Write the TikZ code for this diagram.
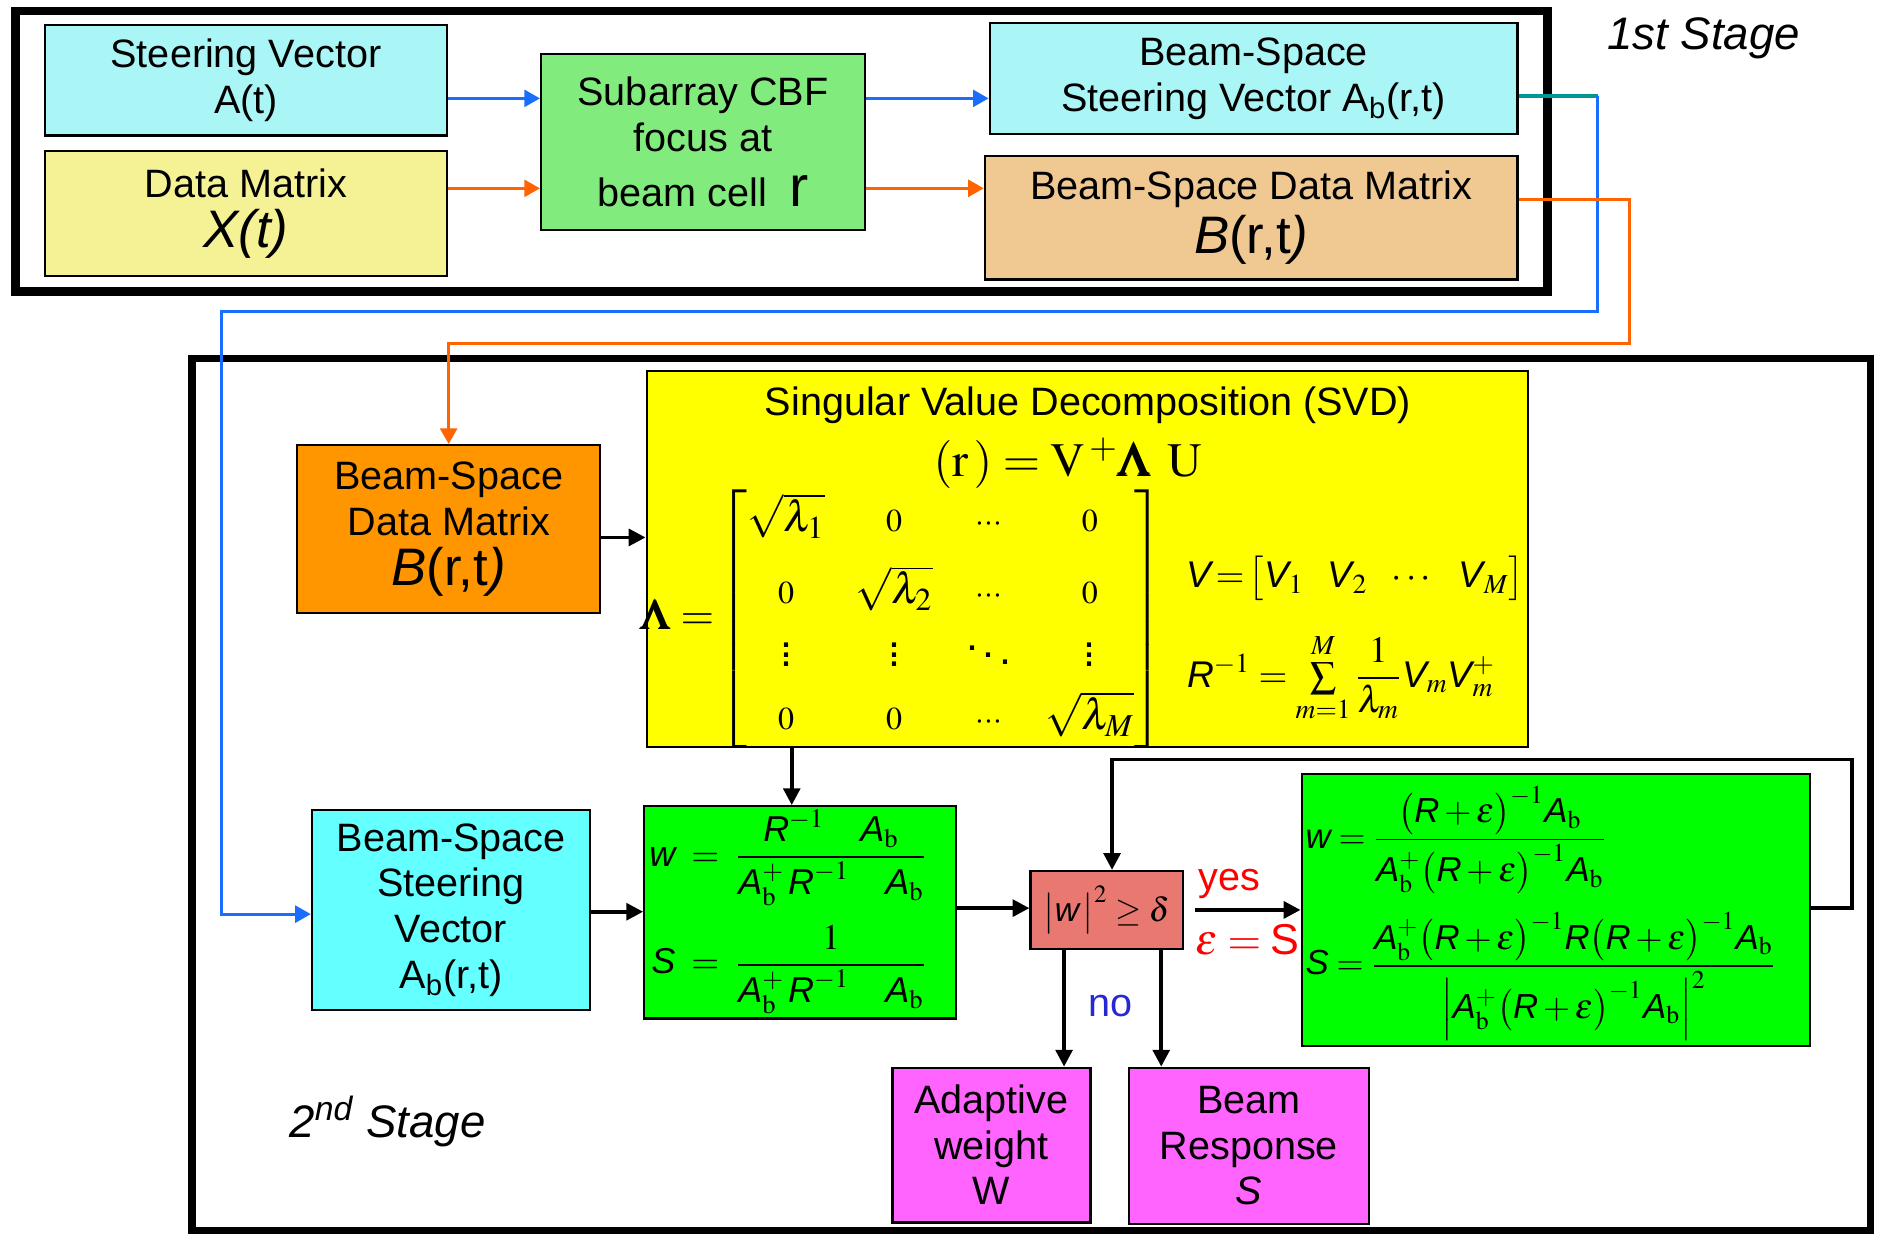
\documentclass[tikz,border=0pt]{standalone}
\usepackage{amsmath}
\usepackage{mathptmx}
\usepackage[no-math]{fontspec}
\setmainfont{Liberation Sans}
\usetikzlibrary{arrows.meta,positioning}
\definecolor{cyanA}{RGB}{170,245,245}
\definecolor{yellowA}{RGB}{245,242,150}
\definecolor{greenA}{RGB}{130,235,125}
\definecolor{tanA}{RGB}{240,200,145}
\definecolor{orangeB}{RGB}{255,150,0}
\definecolor{yellowB}{RGB}{255,255,0}
\definecolor{cyanB}{RGB}{100,255,255}
\definecolor{greenB}{RGB}{0,255,0}
\definecolor{redA}{RGB}{232,120,112}
\definecolor{magA}{RGB}{255,100,255}
\definecolor{lineblue}{RGB}{25,110,255}
\definecolor{lineorange}{RGB}{255,100,0}
\definecolor{tealA}{RGB}{0,150,150}
\definecolor{noblue}{RGB}{40,40,210}
\newcommand{\si}[1]{\text{\itshape #1}}
\newcommand{\mz}{{\scriptstyle 0}}
\newcommand{\md}{{\scriptstyle\cdots}}
\newcommand{\Ab}{\si{A}_{\mathrm b}}
\begin{document}
\begin{tikzpicture}[x=0.5pt,y=-0.5pt,
  box/.style={draw,line width=0.9pt,align=center,inner sep=0pt,
    font=\fontsize{16.5}{19}\selectfont},
  lbl/.style={inner sep=0pt,align=center,font=\fontsize{16.5}{19}\selectfont},
  arr/.style={line width=1.5pt,-{Triangle[length=7pt,width=7pt]}},
  bluearr/.style={draw=lineblue,line width=1.3pt,-{Triangle[length=6.5pt,width=7pt]}},
  orangearr/.style={draw=lineorange,line width=1.3pt,-{Triangle[length=6.5pt,width=7pt]}}]
\useasboundingbox (0,0) rectangle (1568,1029.5);
\draw[line width=3.5pt] (13,9) rectangle (1290,243);
\draw[line width=3pt] (160,299) rectangle (1559,1026);

\node[box,fill=cyanA,minimum width=167.5pt,minimum height=46pt] (steer) at (205,67) {Steering Vector\\A(t)};
\node[box,fill=yellowA,minimum width=167.5pt,minimum height=52pt] (data) at (205,178)
  {Data Matrix\\[2pt]{\fontsize{22}{24}\selectfont\itshape X(t)}};
\node[box,fill=greenA,minimum width=135pt,minimum height=73.5pt] (cbf) at (586,118.5)
  {Subarray CBF\\focus at\\[4pt]beam cell\ \ {\fontsize{24}{24}\selectfont r}};
\node[box,fill=cyanA,minimum width=220pt,minimum height=46.5pt] (bsteer) at (1045,65.5)
  {Beam-Space\\Steering Vector A\textsubscript{b}(r,t)};
\node[box,fill=tanA,minimum width=222pt,minimum height=51.5pt] (bdata) at (1043,181.5)
  {Beam-Space Data Matrix\\[2pt]{\fontsize{22}{24}\selectfont\textit{B}(r,t\textit{)}}};
\node[lbl,font=\fontsize{19}{22}\selectfont\itshape] (st1) at (1420,32) {1st Stage};

\node[box,fill=orangeB,minimum width=126.5pt,minimum height=70pt] (bdata2) at (374,441)
  {Beam-Space\\Data Matrix\\[2pt]{\fontsize{22}{24}\selectfont\textit{B}(r,t\textit{)}}};
\node[box,fill=yellowB,minimum width=367.5pt,minimum height=157pt] (svd) at (906.5,466) {};
\node[box,fill=cyanB,minimum width=116pt,minimum height=83.5pt] (bsteer2) at (376,758.5)
  {Beam-Space\\Steering\\Vector\\A\textsubscript{b}(r,t)};
\node[box,fill=greenB,minimum width=130pt,minimum height=88.5pt] (wts) at (667,760.5) {};
\node[box,fill=redA,minimum width=63.5pt,minimum height=32.5pt,font=\fontsize{14}{16}\selectfont] (test) at (922.5,758.5)
  {$\big|\si{w}\,\big|^{2}\ge\delta$};
\node[box,fill=greenB,minimum width=212pt,minimum height=113.5pt] (wts2) at (1297,758.5) {};
\node[box,fill=magA,minimum width=82.5pt,minimum height=64.5pt] (aw) at (826.5,954.5) {Adaptive\\weight\\W};
\node[box,fill=magA,minimum width=100pt,minimum height=65pt] (resp) at (1041,955) {Beam\\Response\\\textit{S}};
\node[lbl,font=\fontsize{19}{22}\selectfont\itshape] (st2) at (323,935) {2\textsuperscript{nd} Stage};

\node[lbl] (svdt) at (907,338) {Singular Value Decomposition (SVD)};
\node[lbl,font=\fontsize{20}{24}\selectfont] (svde) at (890,386) {$(\mathrm{r}\,) = \mathrm{V}^{\,+}\pmb{\Lambda}\;\,\mathrm{U}$};
\node[lbl,font=\fontsize{18}{22}\selectfont] (lam) at (752,516)
  {\setlength{\arraycolsep}{6.5pt}\renewcommand{\arraystretch}{1.1}%
   $\pmb{\Lambda}=\!\begin{bmatrix}
     \sqrt{\lambda_1} & \mz & \md & \mz\\[6pt]
     \mz & \sqrt{\lambda_2} & \md & \mz\\[2pt]
     \vdots & \vdots & \ddots & \vdots\\[2pt]
     \mz & \mz & \md & \sqrt{\lambda_M}
   \end{bmatrix}$};
\node[lbl,font=\fontsize{15.5}{20}\selectfont] (vvec) at (1130,482)
  {$\si{V}\!=\!\begin{bmatrix}\si{V}_{1} & \si{V}_{2} & \cdots & \si{V}_{M}\end{bmatrix}$};
\node[lbl,font=\fontsize{15.5}{20}\selectfont] (rinv) at (1118,565)
  {$\si{R}^{-1}=\sum\limits_{m=1}^{M}\dfrac{1}{\lambda_m}\si{V}_{m}\si{V}_{m}^{+}$};

\node[lbl,anchor=west,font=\fontsize{15}{17}\selectfont] (wform) at (541,760)
  {$\begin{aligned}
     \si{w}\;&=\;\dfrac{\si{R}^{-1}\quad\Ab}{\Ab^{+}\,\si{R}^{-1}\quad\Ab}\\[4pt]
     \si{S}\;&=\;\dfrac{1}{\Ab^{+}\,\si{R}^{-1}\quad\Ab}
   \end{aligned}$};
\node[lbl,anchor=west,font=\fontsize{14.5}{17}\selectfont] (wform2) at (1088,700)
  {$\si{w}=\dfrac{\big(\si{R}+\varepsilon\big)^{-1}\Ab}{\Ab^{+}\big(\si{R}+\varepsilon\big)^{-1}\Ab}$};
\node[lbl,anchor=west,font=\fontsize{14.5}{17}\selectfont] (sform2) at (1088,814)
  {$\si{S}=\dfrac{\Ab^{+}\big(\si{R}+\varepsilon\big)^{-1}\si{R}\big(\si{R}+\varepsilon\big)^{-1}\Ab}{\Big|\Ab^{+}\big(\si{R}+\varepsilon\big)^{-1}\Ab\Big|^{2}}$};

\node[lbl,text=red] (yes) at (1025,737) {yes};
\node[lbl,text=red,font=\fontsize{18}{20}\selectfont] (eps) at (1040,783) {$\varepsilon = \text{S}$};
\node[lbl,text=noblue] (no) at (926,839) {no};

\coordinate (tb1) at (1332,80);
\coordinate (tb2) at (1332,260);
\coordinate (tb3) at (185,260);
\coordinate (tb4) at (185,762);
\coordinate (or1) at (1358,166);
\coordinate (or2) at (1358,286);
\coordinate (fb1) at (1544,757);
\coordinate (fb2) at (1544,633);
\coordinate (fb3) at (927,633);

\draw[bluearr] (steer.east |- 0,82) -- (cbf.west |- 0,82);
\draw[orangearr] (data.east |- 0,157) -- (cbf.west |- 0,157);
\draw[bluearr] (cbf.east |- 0,82) -- (bsteer.west |- 0,82);
\draw[orangearr] (cbf.east |- 0,157) -- (bdata.west |- 0,157);
\draw[draw=tealA,line width=1.3pt] (bsteer.east |- tb1) -- (tb1);
\draw[bluearr] (tb1) -- (tb2) -- (tb3) -- (tb4) -- (bsteer2.west |- tb4);
\draw[orangearr] (bdata.east |- or1) -- (or1) -- (or2) -- (bdata2.north |- or2) -- (bdata2.north);
\draw[arr] (bdata2.east |- 0,448) -- (svd.west |- 0,448);
\draw[arr] (svd.south -| 660,0) -- (wts.north -| 660,0);
\draw[arr] (bsteer2.east |- 0,760) -- (wts.west |- 0,760);
\draw[arr] (wts.east |- 0,757) -- (test.west |- 0,757);
\draw[arr] ([xshift=4.5pt]test.east) -- (wts2.west |- test.east);
\draw[arr] (wts2.east |- fb1) -- (fb1) -- (fb2) -- (fb3) -- (test.north -| fb3);
\draw[arr] (test.south -| 887,0) -- (aw.north -| 887,0);
\draw[arr] (test.south -| 968,0) -- (resp.north -| 968,0);
\end{tikzpicture}
\end{document}
